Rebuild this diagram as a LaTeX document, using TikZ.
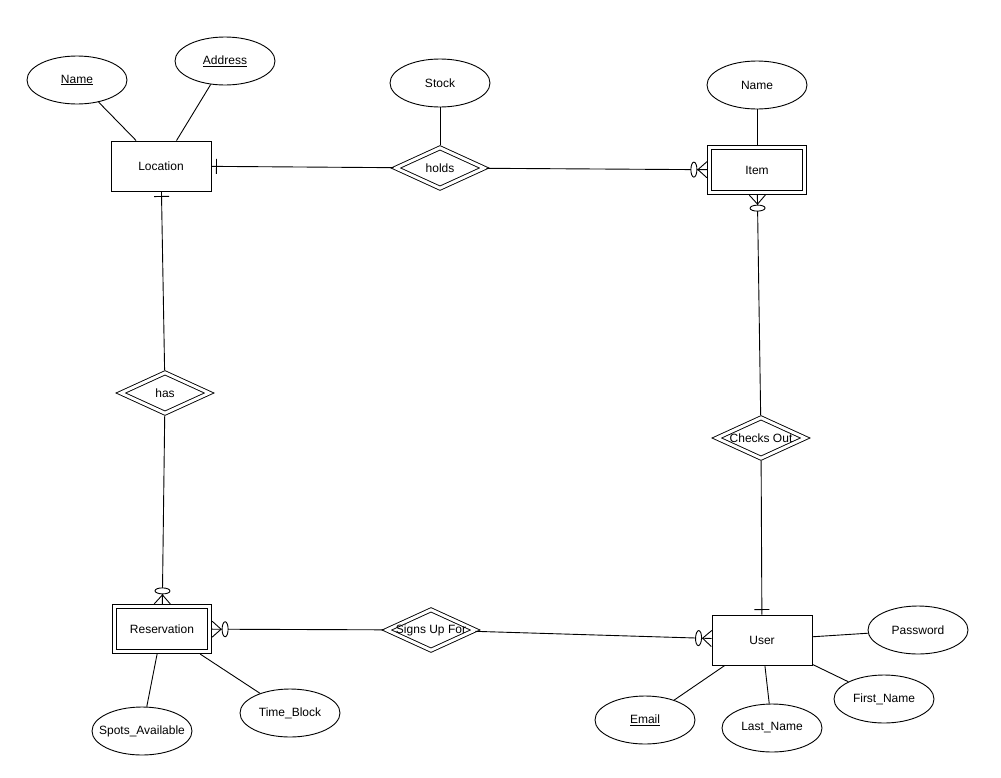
\documentclass[tikz,border=0pt]{standalone}
\usepackage{fontspec}
\setmainfont{Liberation Sans}
\usetikzlibrary{shapes}
\usetikzlibrary{decorations.markings}

\newcommand{\fixw}[1]{\makebox[0pt]{#1}}

\begin{document}
\begin{tikzpicture}[x = 1pt, y = -1pt, line width = 0.9pt, font = \fontsize{12}{14}\selectfont]
\tikzstyle{EntityStyle}=[shape = rectangle, minimum width = 100pt, minimum height = 50pt, inner sep = 0pt,
draw]
\tikzstyle{WeakStyle}=[shape = rectangle, minimum width = 95pt, minimum height = 45pt, inner sep = 0pt,
draw, double, double distance = 3.5pt, outer sep = 2.6pt]
\tikzstyle{RelStyle}=[shape = diamond, minimum width = 90pt, minimum height = 42pt, inner sep = 0pt,
draw, double, double distance = 3pt, outer sep = 2pt]
\tikzstyle{AttrStyle}=[shape = ellipse, minimum width = 100pt, minimum height = 48pt, inner sep = 0pt,
draw]
\tikzstyle{OneEnd}=[postaction = {decorate}, decoration = {markings, mark = at position 1 with
{\draw (-5pt,-7.5pt) -- (-5pt,7.5pt);}}]
\tikzstyle{ManyEnd}=[postaction = {decorate}, decoration = {markings, mark = at position 1 with
{\draw (-9pt,0pt) -- (0pt,8pt) (-9pt,0pt) -- (0pt,-8pt);
\draw[fill = white] (-13pt,0pt) ellipse (3pt and 7.5pt);}}]
\useasboundingbox (0,0) rectangle (1001,777);
% entities
\node[EntityStyle] (loc) at (161,166) {Location};
\node[WeakStyle] (item) at (757,170) {Item};
\node[WeakStyle] (res) at (162,629) {Reservation};
\node[EntityStyle] (user) at (762,640) {User};
% relationships
\node[RelStyle] (holds) at (440,168) {\fixw{holds}};
\node[RelStyle] (has) at (165,393) {\fixw{has}};
\node[RelStyle] (checks) at (761,438) {\fixw{Checks Out}};
\node[RelStyle] (signs) at (431,630) {\fixw{Signs Up For}};
% attributes
\node[AttrStyle] (a0) at (77,80) {\underline{Name}};
\node[AttrStyle] (a1) at (225,61) {\underline{Address}};
\node[AttrStyle] (a2) at (440,83) {Stock};
\node[AttrStyle] (a3) at (757,85) {Name};
\node[AttrStyle] (a4) at (142,731) {\fixw{Spots\_Available}};
\node[AttrStyle] (a5) at (290,713) {Time\_Block};
\node[AttrStyle] (a6) at (645,720) {\underline{Email}};
\node[AttrStyle] (a7) at (772,728) {Last\_Name};
\node[AttrStyle] (a8) at (884,699) {First\_Name};
\node[AttrStyle] (a9) at (918,630) {Password};
\draw (a0) -- (loc);
\draw (a1) -- (loc);
\draw (a2) -- (holds);
\draw (a3) -- (item);
\draw (a4) -- (res);
\draw (a5) -- (res);
\draw (a6) -- (user);
\draw (a7) -- (user);
\draw (a8) -- (user);
\draw (a9) -- (user);
\draw[OneEnd] (holds) -- (loc);
\draw[ManyEnd] (holds) -- (item);
\draw[OneEnd] (has) -- (loc);
\draw[ManyEnd] (has) -- (res);
\draw[ManyEnd] (checks) -- (item);
\draw[OneEnd] (checks) -- (user);
\draw[ManyEnd] (signs) -- (res);
\draw[ManyEnd] (signs) -- (user);
\end{tikzpicture}
\end{document}
